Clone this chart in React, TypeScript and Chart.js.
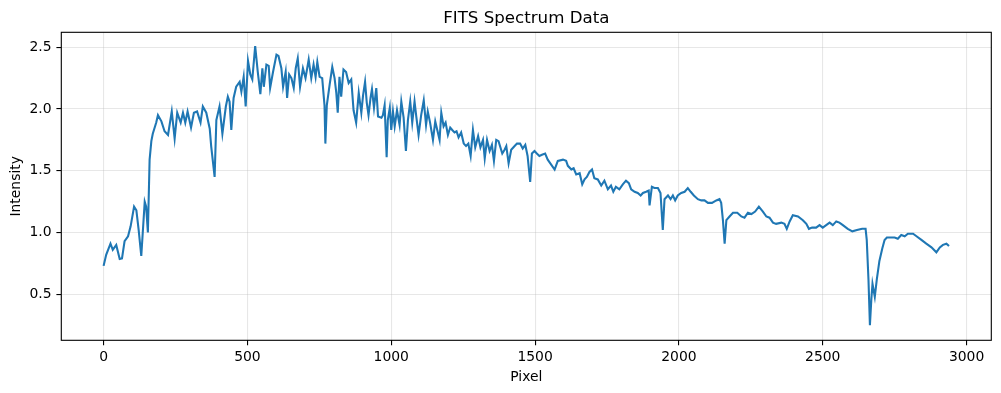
import React, { useEffect, useRef } from "react";
import { Chart, registerables } from "chart.js";

Chart.register(...registerables);

const chartTitle = "FITS Spectrum Data";
const xLabel = "Pixel";
const yLabel = "Intensity";

const xTicks = [0, 500, 1000, 1500, 2000, 2500, 3000];
const yTicks = [0.5, 1.0, 1.5, 2.0, 2.5];

const pixels = [
  0, 9, 24, 32, 44, 56, 64, 73, 85, 94, 106, 114, 122, 131, 143, 148, 154, 160, 166, 171,
  183, 189, 201, 212, 224, 237, 247, 256, 268, 276, 284, 292, 304, 314, 325, 337, 345, 357, 369, 374,
  386, 392, 403, 413, 425, 432,
  438, 444, 452, 461, 473, 479, 487, 494, 502, 510, 517, 527, 536, 545, 552, 557, 566, 574, 579, 589,
  601, 608, 618, 624, 633, 638, 645, 653, 661, 668, 675, 683, 693, 702, 713, 722, 730, 737, 743, 751,
  760, 768, 771, 776, 786, 795, 803, 809, 814, 820, 826, 834, 843, 852, 861, 869, 878, 887, 896, 902,
  909, 915,
  921, 928, 933, 940, 948, 954, 966, 971, 977, 984, 988, 995, 1000, 1006, 1012, 1020, 1029, 1035, 1043, 1051,
  1058, 1066, 1073, 1081, 1087, 1095, 1104, 1113, 1121, 1127, 1135, 1145, 1153, 1160, 1168, 1174, 1182, 1189, 1197, 1205,
  1212, 1220, 1227, 1234, 1243, 1252, 1260, 1268, 1276, 1284, 1292, 1302, 1310, 1319, 1325, 1333, 1342, 1350, 1357, 1365,
  1373, 1386, 1394, 1400, 1408, 1417, 1429, 1437, 1448, 1457, 1466, 1474, 1483, 1489, 1498, 1506, 1515, 1524, 1535, 1544,
  1556, 1568, 1579, 1597, 1608, 1614, 1626, 1634, 1643, 1655, 1664, 1672, 1680, 1689, 1698, 1706, 1718, 1730, 1741, 1753,
  1764, 1772, 1781, 1793, 1805, 1816, 1826, 1834, 1846, 1857, 1867, 1875, 1886, 1895, 1898, 1906, 1915, 1927, 1936, 1944,
  1950, 1962, 1971, 1979, 1987, 1996, 2008, 2020, 2031, 2041, 2052, 2066, 2078, 2089, 2101, 2115, 2130, 2141, 2147, 2153,
  2159, 2165, 2176, 2188, 2203, 2217, 2228, 2240, 2252, 2265, 2278, 2292, 2304, 2315, 2327, 2338, 2356, 2367, 2375, 2385,
  2396, 2414, 2431, 2443, 2452, 2463, 2477, 2489, 2500, 2512, 2524, 2535, 2547, 2558, 2570, 2587, 2603, 2619, 2637, 2649,
  2653, 2659, 2664, 2669, 2673, 2681, 2688, 2697, 2707, 2715, 2723, 2738, 2750, 2761, 2773, 2785, 2796, 2814, 2826, 2843,
  2860, 2878, 2895, 2907, 2918, 2930, 2939,
];

const intensity = [
  0.73, 0.82, 0.91, 0.86, 0.9, 0.785, 0.79, 0.93, 0.97, 1.05, 1.21, 1.18, 1.02, 0.81, 1.25, 1.21, 1.0, 1.59, 1.74, 1.8,
  1.89, 1.95, 1.9, 1.82, 1.79, 1.98, 1.76, 1.97, 1.89, 1.97, 1.89, 1.98, 1.85, 1.97, 1.98, 1.89, 2.02, 1.97, 1.84, 1.7,
  1.45, 1.91, 2.02, 1.8, 2.02, 2.1,
  2.06, 1.83, 2.09, 2.18, 2.22, 2.14, 2.26, 2.02, 2.39, 2.28, 2.24, 2.51, 2.3, 2.12, 2.33, 2.18, 2.36, 2.35, 2.17, 2.3,
  2.44, 2.43, 2.33, 2.18, 2.3, 2.09, 2.28, 2.25, 2.17, 2.33, 2.41, 2.18, 2.33, 2.25, 2.4, 2.25, 2.36, 2.26, 2.38, 2.26,
  2.25, 2.03, 1.72, 2.03, 2.2, 2.34, 2.25, 2.13, 1.97, 2.26, 2.1, 2.32, 2.3, 2.21, 2.24, 1.99, 1.89, 2.13, 1.97, 2.11,
  2.22, 2.05,
  1.95, 2.09, 2.16, 2.01, 2.17, 1.94, 1.93, 1.95, 2.03, 1.61, 1.91, 2.01, 1.83, 1.98, 1.86, 1.99, 1.87, 2.06, 1.93, 1.66,
  1.91, 2.06, 1.89, 2.06, 1.94, 1.79, 1.95, 2.07, 1.87, 1.98, 1.89, 1.75, 1.9, 1.83, 1.75, 1.97, 1.86, 1.89, 1.79, 1.85,
  1.83, 1.81, 1.82, 1.77, 1.81, 1.72, 1.7, 1.72, 1.62, 1.83, 1.69, 1.78, 1.69, 1.75, 1.6, 1.75, 1.66, 1.71, 1.58, 1.75,
  1.74, 1.64, 1.67, 1.7, 1.56, 1.67, 1.7, 1.72, 1.72, 1.68, 1.71, 1.62, 1.41, 1.64, 1.66, 1.64, 1.62, 1.63, 1.64, 1.59,
  1.55, 1.51, 1.58, 1.59, 1.58, 1.54, 1.51, 1.52, 1.47, 1.48, 1.39, 1.43, 1.45, 1.49, 1.51, 1.44, 1.43, 1.38, 1.42, 1.35,
  1.38, 1.33, 1.37, 1.35, 1.39, 1.42, 1.4, 1.35, 1.33, 1.32, 1.3, 1.32, 1.33, 1.34, 1.22, 1.37, 1.36, 1.36, 1.32, 1.02,
  1.27, 1.3, 1.27, 1.3, 1.26, 1.3, 1.32, 1.33, 1.36, 1.33, 1.3, 1.27, 1.26, 1.26, 1.24, 1.24, 1.26, 1.27, 1.24, 1.1,
  0.91, 1.1, 1.13, 1.16, 1.16, 1.13, 1.12, 1.16, 1.15, 1.17, 1.21, 1.17, 1.13, 1.12, 1.08, 1.07, 1.08, 1.07, 1.03, 1.09,
  1.14, 1.13, 1.1, 1.07, 1.03, 1.04, 1.04, 1.06, 1.04, 1.06, 1.08, 1.06, 1.09, 1.08, 1.06, 1.03, 1.01, 1.02, 1.03, 1.03,
  0.94, 0.62, 0.25, 0.46, 0.585, 0.48, 0.62, 0.77, 0.87, 0.94, 0.96, 0.96, 0.96, 0.95, 0.98, 0.97, 0.99, 0.99, 0.97, 0.94,
  0.91, 0.88, 0.84, 0.88, 0.9, 0.91, 0.89,
];

const FONT = "DejaVu Sans";

export default function App() {
  const ref = useRef<HTMLCanvasElement | null>(null);

  useEffect(() => {
    document.body.style.margin = "0";
    const canvas = ref.current;
    if (!canvas) return;

    const frame = {
      id: "frame",
      afterDatasetsDraw(chart: any) {
        const { ctx, chartArea: a } = chart;
        ctx.save();
        ctx.strokeStyle = "#000";
        ctx.lineWidth = 1.1;
        ctx.strokeRect(a.left, a.top, a.right - a.left, a.bottom - a.top);
        ctx.restore();
      },
    };

    const gridOpts = {
      display: true,
      color: "rgba(176,176,176,0.3)",
      lineWidth: 1.1,
      drawTicks: true,
      tickLength: 4.9,
      tickColor: "#000",
      tickWidth: 1.1,
    };

    const chart = new Chart(canvas, {
      type: "line",
      data: {
        datasets: [
          {
            data: pixels.map((x, i) => ({ x, y: intensity[i] })),
            borderColor: "#1f77b4",
            borderWidth: 2.08,
            pointRadius: 0,
            tension: 0,
            fill: false,
          },
        ],
      },
      options: {
        responsive: false,
        animation: false,
        devicePixelRatio: 1,
        layout: { padding: { left: 0, right: 9.7, top: 0, bottom: 0 } },
        plugins: {
          legend: { display: false },
          tooltip: { enabled: false },
          title: {
            display: true,
            text: chartTitle,
            fullSize: false,
            color: "#000",
            font: { family: FONT, size: 16.67, weight: "normal", lineHeight: 1.2 },
            padding: { top: 8.2, bottom: 4.1 },
          },
        },
        scales: {
          x: {
            type: "linear",
            min: -147,
            max: 3086,
            border: { display: false },
            grid: gridOpts,
            afterFit(s: any) {
              s.height = 52.7;
            },
            afterBuildTicks(s: any) {
              s.ticks = xTicks.map((v) => ({ value: v }));
            },
            ticks: {
              autoSkip: false,
              maxRotation: 0,
              padding: 3.5,
              color: "#000",
              font: { family: FONT, size: 13.9 },
              callback: (v: any) => String(v),
            },
            title: {
              display: true,
              text: xLabel,
              color: "#000",
              font: { family: FONT, size: 13.9 },
              padding: { top: 0, bottom: 7.7 },
            },
          },
          y: {
            type: "linear",
            min: 0.1275,
            max: 2.621,
            border: { display: false },
            grid: gridOpts,
            afterFit(s: any) {
              s.width = 61.3;
            },
            afterBuildTicks(s: any) {
              s.ticks = yTicks.map((v) => ({ value: v }));
            },
            ticks: {
              autoSkip: false,
              padding: 4.8,
              color: "#000",
              font: { family: FONT, size: 13.9 },
              callback: (v: any) => Number(v).toFixed(1),
            },
            title: {
              display: true,
              text: yLabel,
              color: "#000",
              font: { family: FONT, size: 13.9 },
              padding: { top: 8, bottom: 0 },
            },
          },
        },
      },
      plugins: [frame],
    } as any);

    return () => chart.destroy();
  }, []);

  return (
    <div style={{ position: "absolute", left: 0, top: 0, width: 1001, height: 393, background: "#fff" }}>
      <canvas ref={ref} width={1001} height={393} style={{ display: "block", width: 1001, height: 393 }} />
    </div>
  );
}
